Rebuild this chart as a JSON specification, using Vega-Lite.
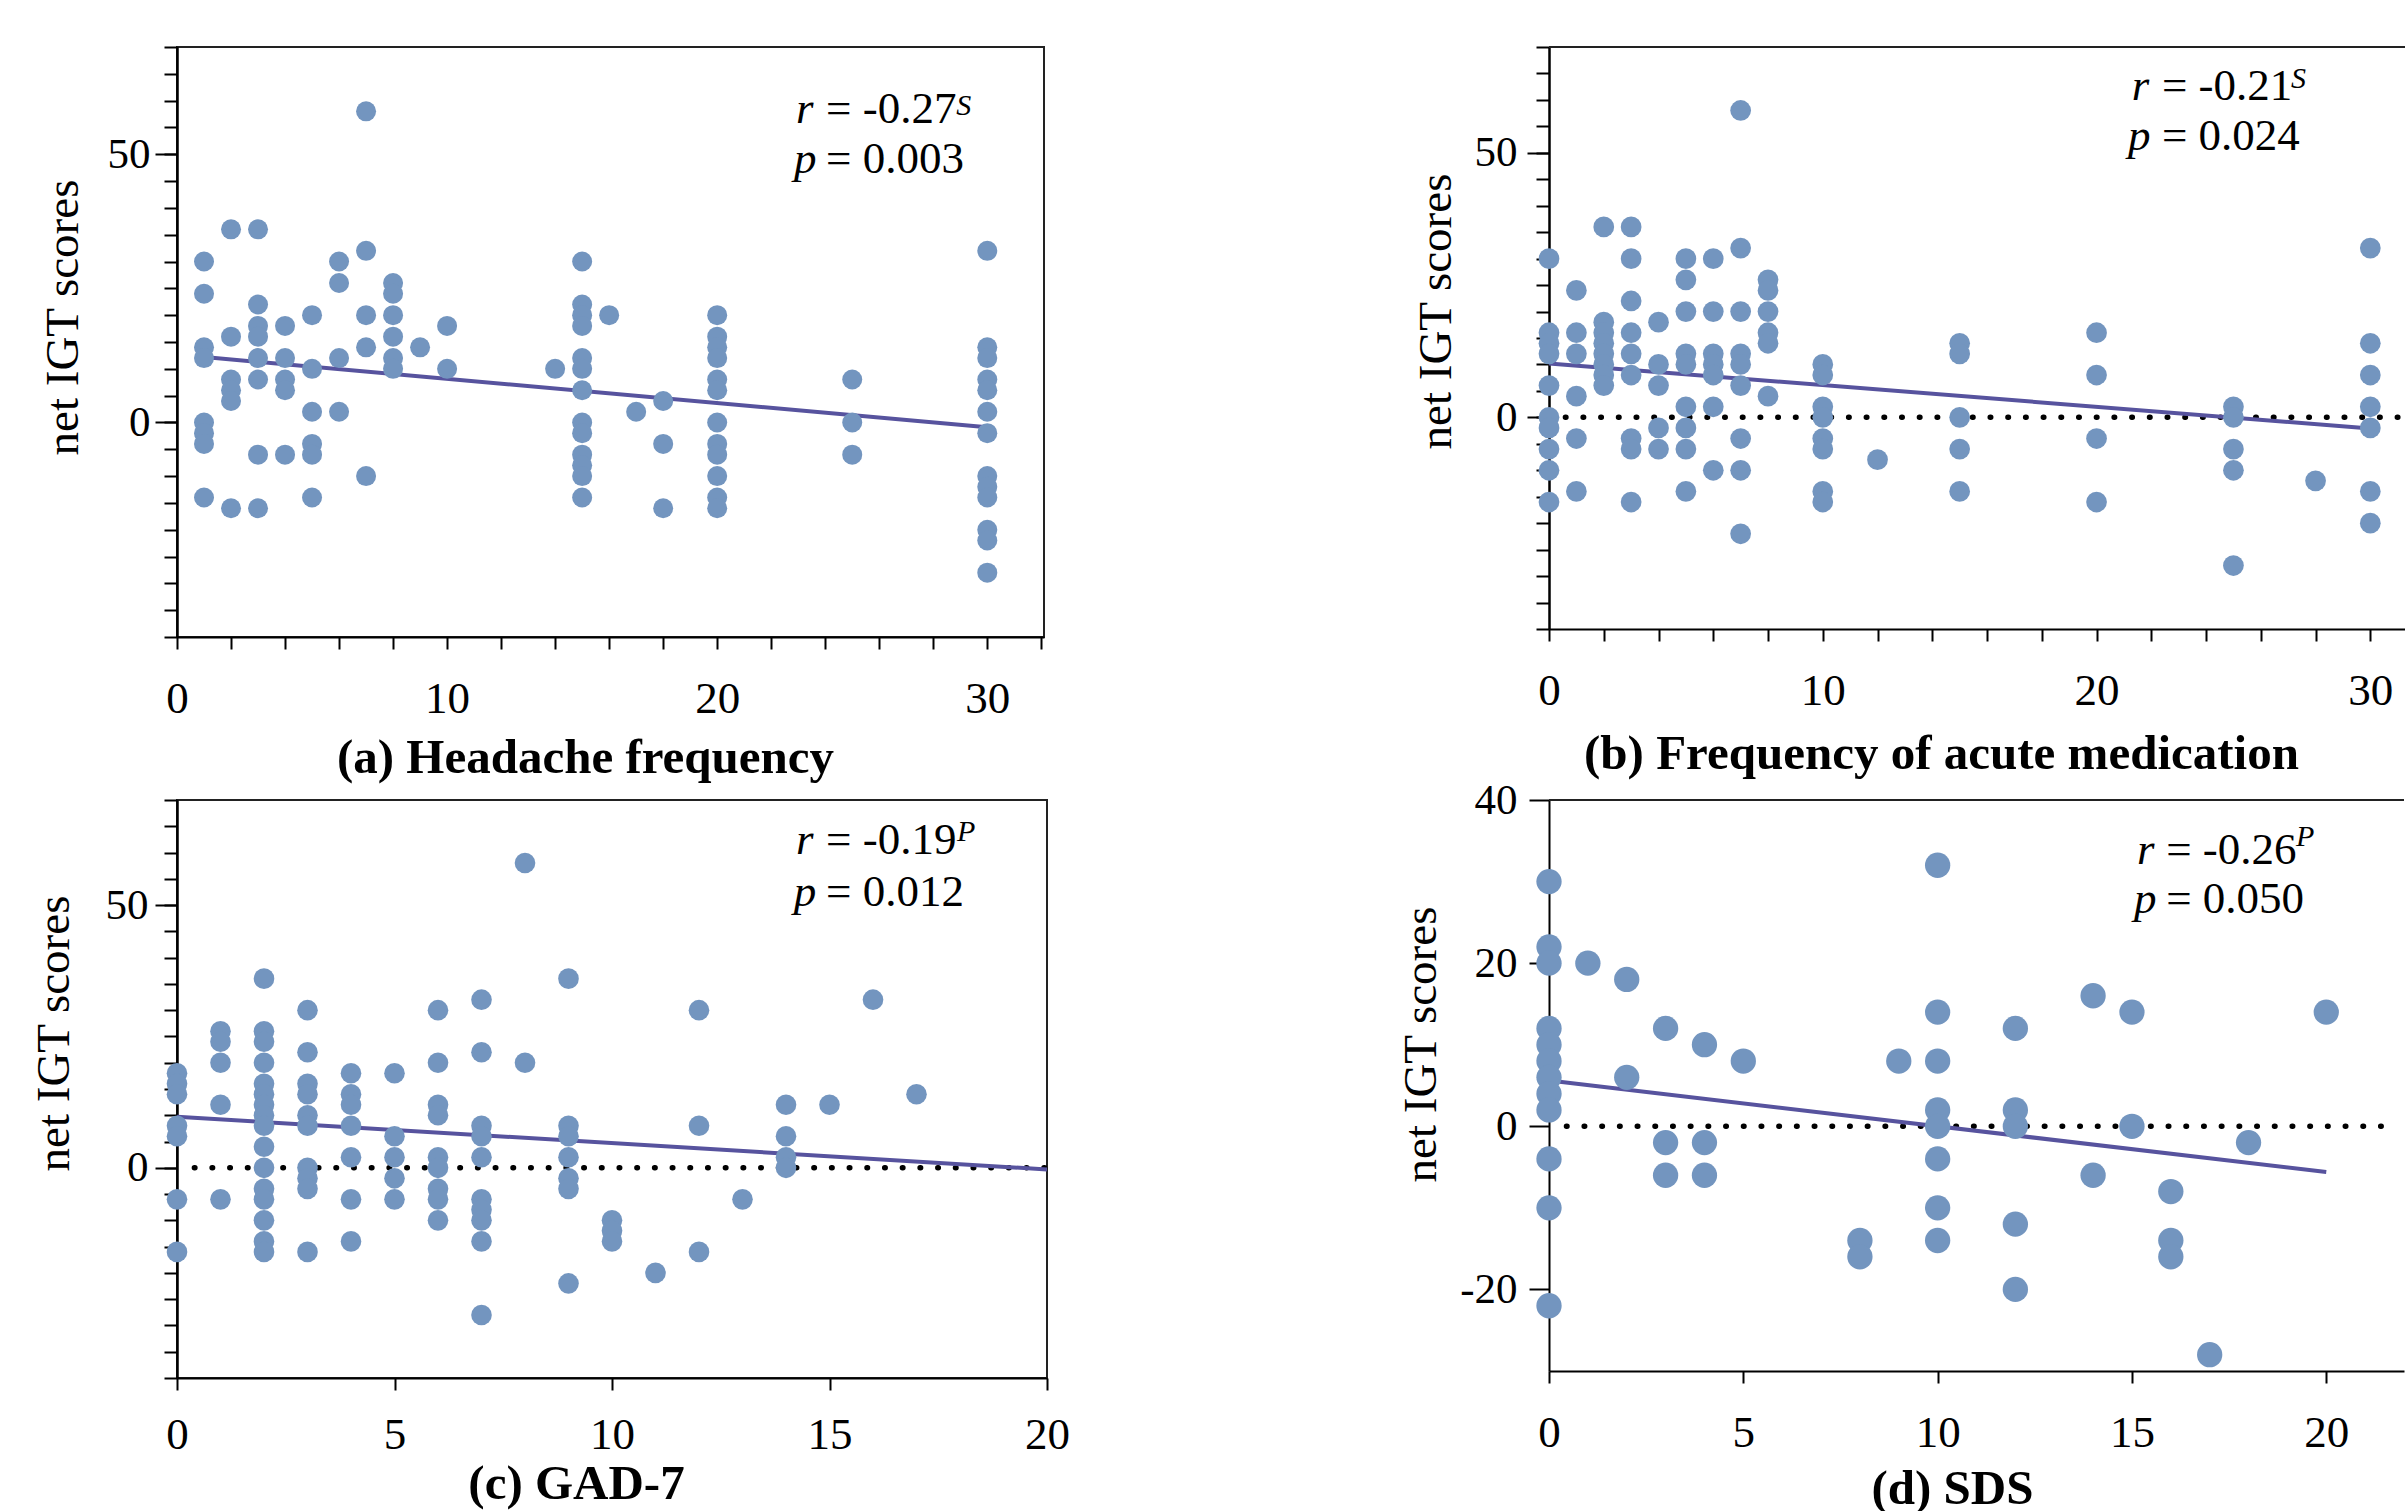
{
  "$schema": "https://vega.github.io/schema/vega-lite/v6.json",
  "padding": {"left": 28, "top": 45, "right": 0, "bottom": 0},
  "background": "white",
  "datasets": {
    "a": [
      {"x":1,"y":30},{"x":1,"y":24},{"x":1,"y":14},{"x":1,"y":12},{"x":1,"y":0},{"x":1,"y":-2},{"x":1,"y":-4},{"x":1,"y":-14},
      {"x":2,"y":36},{"x":2,"y":16},{"x":2,"y":8},{"x":2,"y":6},{"x":2,"y":4},{"x":2,"y":-16},
      {"x":3,"y":36},{"x":3,"y":22},{"x":3,"y":18},{"x":3,"y":16},{"x":3,"y":12},{"x":3,"y":8},{"x":3,"y":-6},{"x":3,"y":-16},
      {"x":4,"y":18},{"x":4,"y":12},{"x":4,"y":8},{"x":4,"y":6},{"x":4,"y":-6},
      {"x":5,"y":20},{"x":5,"y":10},{"x":5,"y":2},{"x":5,"y":-4},{"x":5,"y":-6},{"x":5,"y":-14},
      {"x":6,"y":30},{"x":6,"y":26},{"x":6,"y":12},{"x":6,"y":2},
      {"x":7,"y":58},{"x":7,"y":32},{"x":7,"y":20},{"x":7,"y":14},{"x":7,"y":-10},
      {"x":8,"y":26},{"x":8,"y":24},{"x":8,"y":20},{"x":8,"y":16},{"x":8,"y":12},{"x":8,"y":10},
      {"x":9,"y":14},
      {"x":10,"y":18},{"x":10,"y":10},
      {"x":14,"y":10},
      {"x":15,"y":30},{"x":15,"y":22},{"x":15,"y":20},{"x":15,"y":18},{"x":15,"y":12},{"x":15,"y":10},{"x":15,"y":6},{"x":15,"y":0},{"x":15,"y":-2},{"x":15,"y":-6},{"x":15,"y":-8},{"x":15,"y":-10},{"x":15,"y":-14},
      {"x":16,"y":20},
      {"x":17,"y":2},
      {"x":18,"y":4},{"x":18,"y":-4},{"x":18,"y":-16},
      {"x":20,"y":20},{"x":20,"y":16},{"x":20,"y":14},{"x":20,"y":12},{"x":20,"y":8},{"x":20,"y":6},{"x":20,"y":0},{"x":20,"y":-4},{"x":20,"y":-6},{"x":20,"y":-10},{"x":20,"y":-14},{"x":20,"y":-16},
      {"x":25,"y":8},{"x":25,"y":0},{"x":25,"y":-6},
      {"x":30,"y":32},{"x":30,"y":14},{"x":30,"y":12},{"x":30,"y":8},{"x":30,"y":6},{"x":30,"y":2},{"x":30,"y":-2},{"x":30,"y":-10},{"x":30,"y":-12},{"x":30,"y":-14},{"x":30,"y":-20},{"x":30,"y":-22},{"x":30,"y":-28}
    ],
    "b": [
      {"x":0,"y":30},{"x":0,"y":16},{"x":0,"y":14},{"x":0,"y":12},{"x":0,"y":6},{"x":0,"y":0},{"x":0,"y":-2},{"x":0,"y":-6},{"x":0,"y":-10},{"x":0,"y":-16},
      {"x":1,"y":24},{"x":1,"y":16},{"x":1,"y":12},{"x":1,"y":4},{"x":1,"y":-4},{"x":1,"y":-14},
      {"x":2,"y":36},{"x":2,"y":18},{"x":2,"y":16},{"x":2,"y":14},{"x":2,"y":12},{"x":2,"y":10},{"x":2,"y":8},{"x":2,"y":6},
      {"x":3,"y":36},{"x":3,"y":30},{"x":3,"y":22},{"x":3,"y":16},{"x":3,"y":12},{"x":3,"y":8},{"x":3,"y":-4},{"x":3,"y":-6},{"x":3,"y":-16},
      {"x":4,"y":18},{"x":4,"y":10},{"x":4,"y":6},{"x":4,"y":-2},{"x":4,"y":-6},
      {"x":5,"y":30},{"x":5,"y":26},{"x":5,"y":20},{"x":5,"y":12},{"x":5,"y":10},{"x":5,"y":2},{"x":5,"y":-2},{"x":5,"y":-6},{"x":5,"y":-14},
      {"x":6,"y":30},{"x":6,"y":20},{"x":6,"y":12},{"x":6,"y":10},{"x":6,"y":8},{"x":6,"y":2},{"x":6,"y":-10},
      {"x":7,"y":58},{"x":7,"y":32},{"x":7,"y":20},{"x":7,"y":12},{"x":7,"y":10},{"x":7,"y":6},{"x":7,"y":-4},{"x":7,"y":-10},{"x":7,"y":-22},
      {"x":8,"y":26},{"x":8,"y":24},{"x":8,"y":20},{"x":8,"y":16},{"x":8,"y":14},{"x":8,"y":4},
      {"x":10,"y":10},{"x":10,"y":8},{"x":10,"y":2},{"x":10,"y":0},{"x":10,"y":-4},{"x":10,"y":-6},{"x":10,"y":-14},{"x":10,"y":-16},
      {"x":12,"y":-8},
      {"x":15,"y":14},{"x":15,"y":12},{"x":15,"y":0},{"x":15,"y":-6},{"x":15,"y":-14},
      {"x":20,"y":16},{"x":20,"y":8},{"x":20,"y":-4},{"x":20,"y":-16},
      {"x":25,"y":2},{"x":25,"y":0},{"x":25,"y":-6},{"x":25,"y":-10},{"x":25,"y":-28},
      {"x":28,"y":-12},
      {"x":30,"y":32},{"x":30,"y":14},{"x":30,"y":8},{"x":30,"y":2},{"x":30,"y":-2},{"x":30,"y":-14},{"x":30,"y":-20}
    ],
    "c": [
      {"x":0,"y":18},{"x":0,"y":16},{"x":0,"y":14},{"x":0,"y":8},{"x":0,"y":6},{"x":0,"y":-6},{"x":0,"y":-16},
      {"x":1,"y":26},{"x":1,"y":24},{"x":1,"y":20},{"x":1,"y":12},{"x":1,"y":-6},
      {"x":2,"y":36},{"x":2,"y":26},{"x":2,"y":24},{"x":2,"y":20},{"x":2,"y":16},{"x":2,"y":14},{"x":2,"y":12},{"x":2,"y":10},{"x":2,"y":8},{"x":2,"y":4},{"x":2,"y":0},{"x":2,"y":-4},{"x":2,"y":-6},{"x":2,"y":-10},{"x":2,"y":-14},{"x":2,"y":-16},
      {"x":3,"y":30},{"x":3,"y":22},{"x":3,"y":16},{"x":3,"y":14},{"x":3,"y":10},{"x":3,"y":8},{"x":3,"y":0},{"x":3,"y":-2},{"x":3,"y":-4},{"x":3,"y":-16},
      {"x":4,"y":18},{"x":4,"y":14},{"x":4,"y":12},{"x":4,"y":8},{"x":4,"y":2},{"x":4,"y":-6},{"x":4,"y":-14},
      {"x":5,"y":18},{"x":5,"y":6},{"x":5,"y":2},{"x":5,"y":-2},{"x":5,"y":-6},
      {"x":6,"y":30},{"x":6,"y":20},{"x":6,"y":12},{"x":6,"y":10},{"x":6,"y":2},{"x":6,"y":0},{"x":6,"y":-4},{"x":6,"y":-6},{"x":6,"y":-10},
      {"x":7,"y":32},{"x":7,"y":22},{"x":7,"y":8},{"x":7,"y":6},{"x":7,"y":2},{"x":7,"y":-6},{"x":7,"y":-8},{"x":7,"y":-10},{"x":7,"y":-14},{"x":7,"y":-28},
      {"x":8,"y":58},{"x":8,"y":20},
      {"x":9,"y":36},{"x":9,"y":8},{"x":9,"y":6},{"x":9,"y":2},{"x":9,"y":-2},{"x":9,"y":-4},{"x":9,"y":-22},
      {"x":10,"y":-10},{"x":10,"y":-12},{"x":10,"y":-14},
      {"x":11,"y":-20},
      {"x":12,"y":30},{"x":12,"y":8},{"x":12,"y":-16},
      {"x":13,"y":-6},
      {"x":14,"y":12},{"x":14,"y":6},{"x":14,"y":2},{"x":14,"y":0},
      {"x":15,"y":12},
      {"x":16,"y":32},
      {"x":17,"y":14}
    ],
    "d": [
      {"x":0,"y":30},{"x":0,"y":22},{"x":0,"y":20},{"x":0,"y":12},{"x":0,"y":10},{"x":0,"y":8},{"x":0,"y":6},{"x":0,"y":4},{"x":0,"y":2},{"x":0,"y":-4},{"x":0,"y":-10},{"x":0,"y":-22},
      {"x":1,"y":20},
      {"x":2,"y":18},{"x":2,"y":6},
      {"x":3,"y":12},{"x":3,"y":-2},{"x":3,"y":-6},
      {"x":4,"y":10},{"x":4,"y":-2},{"x":4,"y":-6},
      {"x":5,"y":8},
      {"x":8,"y":-14},{"x":8,"y":-16},
      {"x":9,"y":8},
      {"x":10,"y":32},{"x":10,"y":14},{"x":10,"y":8},{"x":10,"y":2},{"x":10,"y":0},{"x":10,"y":-4},{"x":10,"y":-10},{"x":10,"y":-14},
      {"x":12,"y":12},{"x":12,"y":2},{"x":12,"y":0},{"x":12,"y":-12},{"x":12,"y":-20},
      {"x":14,"y":16},{"x":14,"y":-6},
      {"x":15,"y":14},{"x":15,"y":0},
      {"x":16,"y":-8},{"x":16,"y":-14},{"x":16,"y":-16},
      {"x":17,"y":-28},
      {"x":18,"y":-2},
      {"x":20,"y":14}
    ],
    "fit": [
      {"panel":"a","x":1,"y":12.2},{"panel":"a","x":30,"y":-0.9},
      {"panel":"b","x":0,"y":10.2},{"panel":"b","x":30,"y":-2.1},
      {"panel":"c","x":0,"y":9.7},{"panel":"c","x":20,"y":-0.3},
      {"panel":"d","x":0,"y":5.6},{"panel":"d","x":20,"y":-5.6}
    ]
  },
  "concat": [
    {
      "width": 867, "height": 590,
      "layer": [
        {
          "data": {"name": "fit"},
          "transform": [{"filter": "datum.panel === 'a'"}],
          "mark": {"type": "line", "color": "#57539E", "strokeWidth": 4},
          "encoding": {
            "x": {"field": "x", "type": "quantitative", "scale": {"domain": [0, 32.1], "nice": false, "zero": false},
              "axis": {"values": [0,1,2,3,4,5,6,7,8,9,10,11,12,13,14,15,16,17,18,19,20,21,22,23,24,25,26,27,28,29,30,31,32],
                "labelExpr": "datum.value % 10 === 0 ? datum.label : ''", "title": "(a) Headache frequency", "titleX": 408, "titleY": 135}},
            "y": {"field": "y", "type": "quantitative", "scale": {"domain": [-40, 70], "nice": false, "zero": false},
              "axis": {"orient": "left", "values": [0, 50], "tickSize": 22, "labelPadding": 5, "title": "net IGT scores", "titleX": -100, "titleY": 270}}
          }
        },
        {
          "data": {"name": "a"},
          "mark": {"type": "circle", "size": 400, "color": "#7395BF", "opacity": 1},
          "encoding": {
            "x": {"field": "x", "type": "quantitative"},
            "y": {"field": "y", "type": "quantitative",
              "axis": {"orient": "left", "values": [-40,-35,-30,-25,-20,-15,-10,-5,0,5,10,15,20,25,30,35,40,45,50,55,60,65,70], "tickSize": 13, "labels": false, "title": null}}
          }
        },
        {"data": {"values": [{}]}, "mark": {"type": "text", "text": "r", "fontStyle": "italic"},
          "encoding": {"x": {"datum": 22.92, "type": "quantitative"}, "y": {"datum": 55.83, "type": "quantitative", "axis": null}}},
        {"data": {"values": [{}]}, "mark": {"type": "text", "text": "= -0.27"},
          "encoding": {"x": {"datum": 24.03, "type": "quantitative"}, "y": {"datum": 55.83, "type": "quantitative", "axis": null}}},
        {"data": {"values": [{}]}, "mark": {"type": "text", "text": "S", "fontStyle": "italic", "fontSize": 30},
          "encoding": {"x": {"datum": 28.85, "type": "quantitative"}, "y": {"datum": 57.32, "type": "quantitative", "axis": null}}},
        {"data": {"values": [{}]}, "mark": {"type": "text", "text": "p", "fontStyle": "italic"},
          "encoding": {"x": {"datum": 22.84, "type": "quantitative"}, "y": {"datum": 46.51, "type": "quantitative", "axis": null}}},
        {"data": {"values": [{}]}, "mark": {"type": "text", "text": "= 0.003"},
          "encoding": {"x": {"datum": 24.03, "type": "quantitative"}, "y": {"datum": 46.51, "type": "quantitative", "axis": null}}}
      ],
      "resolve": {"axis": {"y": "independent"}}
    },
    {
      "width": 858, "height": 582,
      "view": {"stroke": null},
      "layer": [
        {"data": {"values": [{}]}, "mark": {"type": "rule", "color": "#000", "strokeWidth": 5.5, "strokeDash": [0.5, 17.2], "strokeCap": "round"},
          "encoding": {"x": {"datum": 0.6, "type": "quantitative"}, "x2": {"datum": 31.34}, "y": {"datum": 0, "type": "quantitative", "axis": null}}},
        {
          "data": {"name": "fit"},
          "transform": [{"filter": "datum.panel === 'b'"}],
          "mark": {"type": "line", "color": "#57539E", "strokeWidth": 4},
          "encoding": {
            "x": {"field": "x", "type": "quantitative", "scale": {"domain": [0, 31.34], "nice": false, "zero": false},
              "axis": {"values": [0,1,2,3,4,5,6,7,8,9,10,11,12,13,14,15,16,17,18,19,20,21,22,23,24,25,26,27,28,29,30,31],
                "labelExpr": "datum.value % 10 === 0 ? datum.label : ''", "title": "(b) Frequency of acute medication", "titleX": 392, "titleY": 139}},
            "y": {"field": "y", "type": "quantitative", "scale": {"domain": [-40, 70], "nice": false, "zero": false},
              "axis": {"orient": "left", "values": [0, 50], "tickSize": 22, "labelPadding": 10, "title": "net IGT scores", "titleX": -99, "titleY": 264}}
          }
        },
        {
          "data": {"name": "b"},
          "mark": {"type": "circle", "size": 430, "color": "#7395BF", "opacity": 1},
          "encoding": {
            "x": {"field": "x", "type": "quantitative"},
            "y": {"field": "y", "type": "quantitative",
              "axis": {"orient": "left", "values": [-40,-35,-30,-25,-20,-15,-10,-5,0,5,10,15,20,25,30,35,40,45,50,55,60,65,70], "tickSize": 13, "labels": false, "title": null}}
          }
        },
        {"data": {"values": [{}]}, "mark": {"type": "rule", "color": "#222", "strokeWidth": 2},
          "encoding": {"x": {"datum": 0, "type": "quantitative"}, "x2": {"datum": 31.34}, "y": {"datum": 70, "type": "quantitative", "axis": null}}},
        {"data": {"values": [{}]}, "mark": {"type": "text", "text": "r", "fontStyle": "italic"},
          "encoding": {"x": {"datum": 21.29, "type": "quantitative"}, "y": {"datum": 59.98, "type": "quantitative", "axis": null}}},
        {"data": {"values": [{}]}, "mark": {"type": "text", "text": "= -0.21"},
          "encoding": {"x": {"datum": 22.39, "type": "quantitative"}, "y": {"datum": 59.98, "type": "quantitative", "axis": null}}},
        {"data": {"values": [{}]}, "mark": {"type": "text", "text": "S", "fontStyle": "italic", "fontSize": 30},
          "encoding": {"x": {"datum": 27.1, "type": "quantitative"}, "y": {"datum": 62.25, "type": "quantitative", "axis": null}}},
        {"data": {"values": [{}]}, "mark": {"type": "text", "text": "p", "fontStyle": "italic"},
          "encoding": {"x": {"datum": 21.15, "type": "quantitative"}, "y": {"datum": 50.53, "type": "quantitative", "axis": null}}},
        {"data": {"values": [{}]}, "mark": {"type": "text", "text": "= 0.024"},
          "encoding": {"x": {"datum": 22.39, "type": "quantitative"}, "y": {"datum": 50.53, "type": "quantitative", "axis": null}}}
      ],
      "resolve": {"axis": {"y": "independent"}}
    },
    {
      "width": 870, "height": 578,
      "layer": [
        {"data": {"values": [{}]}, "mark": {"type": "rule", "color": "#000", "strokeWidth": 5.5, "strokeDash": [0.5, 17.2], "strokeCap": "round"},
          "encoding": {"x": {"datum": 0.4, "type": "quantitative"}, "x2": {"datum": 20}, "y": {"datum": 0, "type": "quantitative", "axis": null}}},
        {
          "data": {"name": "fit"},
          "transform": [{"filter": "datum.panel === 'c'"}],
          "mark": {"type": "line", "color": "#57539E", "strokeWidth": 4},
          "encoding": {
            "x": {"field": "x", "type": "quantitative", "scale": {"domain": [0, 20], "nice": false, "zero": false},
              "axis": {"values": [0, 5, 10, 15, 20], "labelPadding": 58, "title": "(c) GAD-7", "titleX": 399, "titleY": 120}},
            "y": {"field": "y", "type": "quantitative", "scale": {"domain": [-40, 70], "nice": false, "zero": false},
              "axis": {"orient": "left", "values": [0, 50], "tickSize": 22, "labelPadding": 7, "title": "net IGT scores", "titleX": -109, "titleY": 233}}
          }
        },
        {
          "data": {"name": "c"},
          "mark": {"type": "circle", "size": 425, "color": "#7395BF", "opacity": 1},
          "encoding": {
            "x": {"field": "x", "type": "quantitative"},
            "y": {"field": "y", "type": "quantitative",
              "axis": {"orient": "left", "values": [-40,-35,-30,-25,-20,-15,-10,-5,0,5,10,15,20,25,30,35,40,45,50,55,60,65,70], "tickSize": 13, "labels": false, "title": null}}
          }
        },
        {"data": {"values": [{}]}, "mark": {"type": "text", "text": "r", "fontStyle": "italic"},
          "encoding": {"x": {"datum": 14.23, "type": "quantitative"}, "y": {"datum": 59.72, "type": "quantitative", "axis": null}}},
        {"data": {"values": [{}]}, "mark": {"type": "text", "text": "= -0.19"},
          "encoding": {"x": {"datum": 14.92, "type": "quantitative"}, "y": {"datum": 59.72, "type": "quantitative", "axis": null}}},
        {"data": {"values": [{}]}, "mark": {"type": "text", "text": "P", "fontStyle": "italic", "fontSize": 30},
          "encoding": {"x": {"datum": 17.93, "type": "quantitative"}, "y": {"datum": 62.2, "type": "quantitative", "axis": null}}},
        {"data": {"values": [{}]}, "mark": {"type": "text", "text": "p", "fontStyle": "italic"},
          "encoding": {"x": {"datum": 14.18, "type": "quantitative"}, "y": {"datum": 49.83, "type": "quantitative", "axis": null}}},
        {"data": {"values": [{}]}, "mark": {"type": "text", "text": "= 0.012"},
          "encoding": {"x": {"datum": 14.92, "type": "quantitative"}, "y": {"datum": 49.83, "type": "quantitative", "axis": null}}}
      ],
      "resolve": {"axis": {"y": "independent"}}
    },
    {
      "width": 855, "height": 571,
      "view": {"stroke": null},
      "layer": [
        {"data": {"values": [{}]}, "mark": {"type": "rule", "color": "#000", "strokeWidth": 5.5, "strokeDash": [0.5, 17.2], "strokeCap": "round"},
          "encoding": {"x": {"datum": 0.45, "type": "quantitative"}, "x2": {"datum": 21.7}, "y": {"datum": 0, "type": "quantitative", "axis": null}}},
        {
          "data": {"name": "fit"},
          "transform": [{"filter": "datum.panel === 'd'"}],
          "mark": {"type": "line", "color": "#57539E", "strokeWidth": 4},
          "encoding": {
            "x": {"field": "x", "type": "quantitative", "scale": {"domain": [0, 22], "nice": false, "zero": false},
              "axis": {"values": [0, 5, 10, 15, 20], "title": "(d) SDS", "titleX": 403, "titleY": 132}},
            "y": {"field": "y", "type": "quantitative", "scale": {"domain": [-30, 40], "nice": false, "zero": false}, "axis": null}
          }
        },
        {
          "data": {"name": "d"},
          "mark": {"type": "circle", "size": 640, "color": "#7395BF", "opacity": 1},
          "encoding": {
            "x": {"field": "x", "type": "quantitative"},
            "y": {"field": "y", "type": "quantitative",
              "axis": {"orient": "left", "values": [-20, 0, 20, 40], "tickSize": 20, "labelPadding": 12, "labelExpr": "'' + datum.value", "title": "net IGT scores", "titleX": -114, "titleY": 244}}
          }
        },
        {"data": {"values": [{}]}, "mark": {"type": "rule", "color": "#222", "strokeWidth": 2},
          "encoding": {"x": {"datum": 0, "type": "quantitative"}, "x2": {"datum": 22}, "y": {"datum": 40, "type": "quantitative", "axis": null}}},
        {"data": {"values": [{}]}, "mark": {"type": "text", "text": "r", "fontStyle": "italic"},
          "encoding": {"x": {"datum": 15.13, "type": "quantitative"}, "y": {"datum": 32.15, "type": "quantitative", "axis": null}}},
        {"data": {"values": [{}]}, "mark": {"type": "text", "text": "= -0.26"},
          "encoding": {"x": {"datum": 15.88, "type": "quantitative"}, "y": {"datum": 32.15, "type": "quantitative", "axis": null}}},
        {"data": {"values": [{}]}, "mark": {"type": "text", "text": "P", "fontStyle": "italic", "fontSize": 30},
          "encoding": {"x": {"datum": 19.22, "type": "quantitative"}, "y": {"datum": 34.36, "type": "quantitative", "axis": null}}},
        {"data": {"values": [{}]}, "mark": {"type": "text", "text": "p", "fontStyle": "italic"},
          "encoding": {"x": {"datum": 15.05, "type": "quantitative"}, "y": {"datum": 26.15, "type": "quantitative", "axis": null}}},
        {"data": {"values": [{}]}, "mark": {"type": "text", "text": "= 0.050"},
          "encoding": {"x": {"datum": 15.88, "type": "quantitative"}, "y": {"datum": 26.15, "type": "quantitative", "axis": null}}}
      ],
      "resolve": {"axis": {"y": "independent"}}
    }
  ],
  "columns": 2,
  "align": "none",
  "bounds": "flush",
  "spacing": {"row": 163, "column": 502},
  "config": {
    "font": "Liberation Serif",
    "view": {"stroke": "#222", "strokeWidth": 2},
    "axis": {"grid": false, "domainColor": "#000", "domainWidth": 2, "tickColor": "#000", "tickWidth": 2,
      "labelFont": "Liberation Serif", "labelColor": "#000", "titleFont": "Liberation Serif", "titleColor": "#000",
      "labelOverlap": false, "labelFlush": false, "labelBound": false},
    "axisX": {"tickSize": 12, "labelFontSize": 45, "labelPadding": 63, "labelBaseline": "alphabetic",
      "titleFontSize": 49, "titleFontWeight": "bold", "titleBaseline": "alphabetic", "titleAlign": "center"},
    "axisY": {"labelFontSize": 43, "labelBaseline": "middle", "titleFontSize": 47, "titleFontWeight": "normal",
      "titleAngle": -90, "titleBaseline": "alphabetic", "titleAlign": "center"},
    "text": {"font": "Liberation Serif", "fontSize": 45, "align": "left", "baseline": "alphabetic", "color": "#000"}
  }
}
